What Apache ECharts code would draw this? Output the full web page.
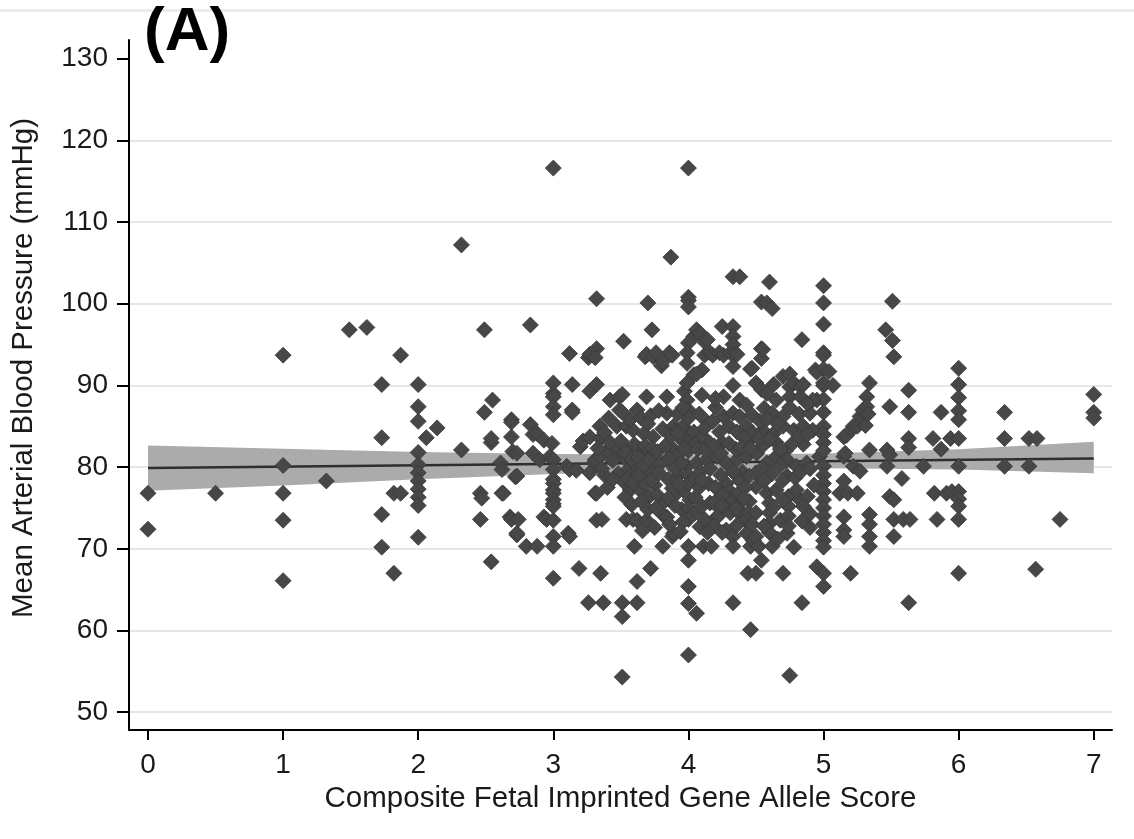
<!DOCTYPE html>
<html><head><meta charset="utf-8">
<script src="https://cdn.jsdelivr.net/npm/echarts@6/dist/echarts.min.js"></script>
<style>html,body{margin:0;padding:0;background:#fff}#c{width:1134px;height:839px}</style>
</head><body><div id="c"></div>
<script>
// ---- axis ticks ----
const xTicks = [0, 1, 2, 3, 4, 5, 6, 7];
const yTicks = [50, 60, 70, 80, 90, 100, 110, 120, 130];
const yGridLines = [50, 60, 70, 80, 90, 100, 110, 120];

// ---- fitted line and 95% CI band ----
const fitScore = [0, 7];
const fitMap = [79.88, 81.05];
const bandScore = [0, 1, 2, 3, 4, 5, 6, 7];
const bandUpper = [82.65, 82.25, 81.85, 81.6, 81.5, 81.65, 82.2, 83.1];
const bandLower = [77.1, 77.75, 78.5, 79.15, 79.6, 79.85, 79.7, 79.25];

// ---- observations [allele score, MAP] ----
const groupLow = [
[0,76.8],[0,72.4],[0.5,76.8],
[1,93.7],[1,80.2],[1,76.8],[1,73.5],[1,66.1],
[1.32,78.3],[1.49,96.8],[1.62,97.1],
[1.73,90.1],[1.73,83.6],[1.73,74.2],[1.73,70.2],
[1.82,76.8],[1.82,67.0],[1.87,93.7],[1.87,76.8],
[2,90.1],[2,87.4],[2,85.6],[2,81.8],[2,80.3],[2,79.3],[2,78.3],[2,77.3],[2,76.3],[2,75.3],[2,71.4],
[2.06,83.6],[2.14,84.8],[2.32,107.2],[2.32,82.1],
[2.49,96.8],[2.55,88.2],[2.49,86.7],[2.46,76.8],[2.47,76.2],[2.46,73.6],[2.54,68.4],[2.54,83.0],[2.54,83.5]
];
const groupMidA = [
[2.61,80.5],[2.62,79.7],[2.62,76.8],[2.63,76.8],[2.68,73.9],[2.69,73.6],[2.69,85.8],[2.69,83.7],[2.69,85.5],[2.70,81.9],[2.72,78.8],[2.73,81.7],[2.73,78.9],[2.73,71.7],[2.73,71.9],[2.74,73.6],[2.80,70.3],[2.83,97.4],[2.83,85.2],[2.85,84.0],[2.85,81.7],[2.88,84.1],[2.88,70.3],[2.90,80.9],[2.93,83.3],[2.93,73.9],[2.95,73.6],[2.975,81.3],[2.99,82.9],
[3,116.6],[3,90.3],[3,89.0],[3,88.6],[3,87.4],[3,86.4],[3,80.9],[3,79.7],[3,78.5],[3,78.0],[3,77.2],[3,76.8],[3,76.0],[3,75.5],[3,75.2],[3,73.5],[3,71.5],[3,70.3],[3,66.4],
[3.10,80.1],[3.11,71.9],[3.12,93.9],[3.12,79.7],[3.12,71.5],[3.14,90.1],[3.14,87.0],[3.14,86.7],[3.17,79.6],[3.19,67.6],[3.2,82.5],[3.22,83.2],
[3.26,93.4],[3.27,93.8],[3.32,94.5],[3.31,93.4],[3.27,89.3],[3.32,90.1],[3.27,83.7],[3.30,80.5],[3.27,79.3],[3.31,80.9],[3.31,76.8],[3.32,76.8],[3.32,73.5],[3.36,73.6],[3.26,63.4],[3.37,63.4],[3.35,67.0],[3.32,100.6],[3.345,85.0],[3.345,81.3],[3.42,88.2],[3.40,82.0],[3.38,79.0],[3.40,77.5]
];
const groupMidB = [
[3.47,85.0],[3.47,81.3],[3.47,82.5],[3.48,79.2],[3.49,88.6],[3.49,87.0],[3.51,88.9],[3.51,86.7],[3.52,95.4],[3.51,63.4],[3.51,61.7],[3.51,54.3],[3.52,78.2],[3.54,85.0],[3.54,80.9],[3.54,73.6],[3.55,82.0],[3.56,79.8],[3.57,77.2],[3.59,84.5],[3.59,73.6],[3.60,70.3],[3.62,87.0],[3.62,80.1],[3.62,73.5],[3.62,63.4],[3.62,66.0],[3.64,77.2],[3.64,82.2],[3.66,78.8],[3.67,84.1],[3.68,93.5],[3.69,88.6],[3.69,93.8],[3.69,81.3],[3.69,73.5],[3.70,100.1],[3.71,76.4],[3.72,67.6],[3.72,79.5],[3.73,96.8],[3.74,93.5],[3.74,83.7],[3.75,77.8],[3.76,94.0],[3.765,80.5],[3.80,92.4],[3.81,84.7],[3.81,92.9],[3.81,75.6],[3.81,70.3],[3.82,74.0],[3.84,88.6],[3.84,86.6],[3.84,80.9],[3.84,73.9],[3.85,78.5],[3.86,94.0],[3.87,105.7],[3.88,93.7],[3.88,71.5],[3.89,85.0],[3.89,71.9],[3.89,82.2],[3.91,81.3],[3.92,76.9],[3.93,79.0],[3.96,85.0],[3.96,77.2],[3.97,89.3],[3.95,74.8],[3.94,83.5]
];
const groupFour = [
[4,116.6],[4,100.8],[4,100.4],[4,99.6],[4.04,96.0],[4.0,95.2],[3.99,94.0],[3.99,92.7],[4.04,91.3],[3.99,90.3],[3.99,88.2],[4.0,87.0],[4.0,86.0],[4.01,84.0],[4.0,83.0],[4.0,82.0],[3.99,80.1],[4.0,79.0],[4.0,78.0],[4.01,76.0],[4.0,75.0],[4.04,74.3],[4.0,73.6],[4,70.3],[4,68.6],[4,65.4],[4,63.3],[4,57.0],[4.06,62.1],[4.06,96.8],[4.085,96.4],[4.04,84.3],[4.06,80.5],[4.05,78.6],[4.08,77.5],[4.05,76.3],[4.1,75.2],[4.05,82.8],[4.085,72.7],[4.10,91.9],[4.06,91.4],[4.11,83.7],[4.12,93.7],[4.12,95.3],[4.14,95.6],[4.135,80.9],[4.14,85.5],[4.16,94.0],[4.16,82.9],[4.16,75.6],[4.12,73.6],[4.11,70.3],[4.15,78.0],[4.17,70.3],[4.18,93.7],[4.2,87.3],[4.21,81.3],[4.21,73.9],[4.22,74.0],[4.23,94.0],[4.25,97.2],[4.26,93.7],[4.26,88.6],[4.26,86.2],[4.25,83.0],[4.28,80.5],[4.28,78.0],[4.28,72.3],[4.31,94.0],[4.31,77.0],[4.31,76.0],[4.31,74.4],[4.33,97.2],[4.33,96.0],[4.33,95.0],[4.33,93.7],[4.33,92.3],[4.33,90.0],[4.33,86.6],[4.33,76.0],[4.33,71.5],[4.33,70.3],[4.33,63.4],[4.33,103.3],[4.38,103.3],[4.36,93.8],[4.38,88.2],[4.38,86.2],[4.36,80.9],[4.35,82.2],[4.38,74.3],[4.38,74.8],[4.40,79.4],[4.42,73.5],[4.43,85.0],[4.43,81.3],[4.43,71.9],[4.44,67.0],[4.45,83.3],[4.45,75.8],[4.45,74.4],[4.46,92.0],[4.46,70.3],[4.46,60.1],[4.47,92.1],[4.48,84.1],[4.48,71.0]
];
const groupFive = [
[4.50,90.3],[4.50,79.3],[4.50,77.6],[4.50,74.4],[4.50,71.5],[4.50,67.0],[4.505,81.7],[4.52,70.3],[4.54,94.5],[4.54,93.3],[4.54,100.2],[4.54,68.6],[4.54,89.5],[4.55,94.4],[4.55,84.5],[4.56,87.2],[4.55,82.6],[4.58,100.1],[4.58,80.5],[4.58,76.8],[4.6,102.65],[4.6,75.6],[4.6,74.4],[4.6,73.1],[4.6,72.0],[4.62,99.4],[4.62,86.6],[4.62,70.3],[4.63,90.1],[4.63,84.1],[4.63,75.1],[4.65,81.3],[4.65,83.0],[4.68,73.5],[4.70,91.1],[4.70,85.0],[4.70,67.0],[4.70,86.2],[4.72,82.0],[4.73,80.9],[4.73,78.9],[4.73,71.9],[4.74,76.4],[4.74,75.2],[4.74,74.0],[4.74,72.8],[4.75,91.4],[4.75,89.8],[4.75,88.6],[4.75,87.3],[4.75,54.5],[4.78,90.3],[4.78,84.5],[4.78,70.2],[4.80,80.1],[4.82,86.5],[4.825,76.0],[4.83,89.8],[4.83,88.6],[4.84,95.6],[4.84,63.4],[4.85,90.1],[4.85,85.0],[4.85,82.8],[4.875,80.5],[4.88,76.4],[4.90,86.6],[4.90,74.3],[4.92,84.5],[4.94,91.9],[4.95,91.6],[4.95,88.2],[4.95,67.8],[4.97,81.3],
[5,102.2],[5,100.1],[5,97.5],[5,94.0],[5,93.7],[5,92.0],[5,90.3],[5,90.0],[5,88.3],[5,86.7],[5,85.0],[5,84.0],[5,83.0],[5,82.0],[5,80.1],[5,79.0],[5,78.0],[5,77.0],[5,76.0],[5,75.0],[5,74.0],[5,73.0],[5,72.0],[5,71.0],[5,70.2],[5,67.0],[5,65.4],[5.04,91.7],[5.07,90.0]
];
const groupCore = [
[3.35,83.5],[3.38,84.2],[3.42,83.0],[3.44,80.8],[3.36,79.8],[3.44,78.5],[3.33,82.3],[3.41,86.0],
[3.5,83.2],[3.53,81.8],[3.58,80.9],[3.6,82.8],[3.63,81.2],[3.66,80.0],[3.68,82.6],[3.71,81.0],[3.73,82.3],[3.77,81.9],[3.79,80.4],[3.55,78.6],[3.59,78.0],[3.63,79.0],[3.68,77.9],[3.73,78.4],[3.78,79.3],[3.77,76.6],[3.53,76.3],[3.58,75.4],[3.65,75.8],[3.7,74.8],[3.76,75.0],[3.66,72.2],[3.75,72.6],[3.57,85.8],[3.65,86.0],[3.72,86.3],[3.78,86.9],[3.7,85.3],
[3.83,82.6],[3.87,83.8],[3.92,84.2],[3.86,81.0],[3.9,79.8],[3.95,80.5],[3.88,77.4],[3.93,77.9],[3.9,75.3],[3.96,73.3],[3.86,73.0],[3.94,72.1],[3.85,76.2],[3.97,82.3],[3.92,86.5],[3.96,87.3],
[4.08,86.5],[4.12,84.8],[4.18,85.6],[4.23,84.3],[4.3,85.0],[4.36,84.3],[4.41,83.6],[4.07,82.2],[4.13,82.0],[4.19,82.6],[4.24,81.7],[4.3,82.9],[4.39,82.4],[4.46,82.3],[4.09,79.4],[4.16,79.8],[4.24,79.0],[4.33,79.4],[4.38,78.3],[4.45,78.9],[4.1,78.4],[4.2,77.5],[4.25,76.6],[4.37,76.8],[4.42,77.5],[4.19,75.6],[4.25,75.3],[4.35,75.0],[4.41,76.2],[4.19,72.8],[4.25,72.0],[4.36,72.9],[4.47,73.0],[4.14,72.0],[4.2,88.4],[4.1,88.8],[4.43,87.6],[4.47,86.4],
[4.53,85.6],[4.58,85.9],[4.66,85.3],[4.52,83.5],[4.6,83.4],[4.68,82.2],[4.77,82.9],[4.82,83.8],[4.88,84.0],[4.55,79.9],[4.62,79.2],[4.68,80.2],[4.7,78.4],[4.79,78.7],[4.83,79.4],[4.9,79.8],[4.56,78.3],[4.65,77.2],[4.7,76.0],[4.8,77.2],[4.85,75.2],[4.93,77.8],[4.9,72.6],[4.84,73.4],[4.66,71.2],[4.56,72.8],[4.92,88.2],[4.88,87.8],[4.65,88.2],[4.58,89.0]
];
const groupHigh = [
[5.12,76.8],[5.15,83.7],[5.15,81.3],[5.15,78.3],[5.15,73.9],[5.15,72.3],[5.15,71.5],[5.16,81.7],[5.17,83.9],[5.18,76.8],[5.20,67.0],[5.21,84.6],[5.22,85.0],[5.22,80.1],[5.25,85.0],[5.25,76.8],[5.27,86.2],[5.27,79.5],[5.29,87.0],[5.31,85.1],[5.32,88.6],[5.32,87.4],[5.33,86.5],[5.34,90.3],[5.34,82.1],[5.34,74.2],[5.34,73.0],[5.34,71.5],[5.34,70.3],[5.46,96.8],[5.47,82.1],[5.47,80.1],[5.49,87.4],[5.49,81.5],[5.49,76.4],[5.51,100.3],[5.51,95.5],[5.52,93.5],[5.52,76.0],[5.52,73.6],[5.52,71.5],
[5.58,78.6],[5.59,73.6],[5.63,89.4],[5.63,86.7],[5.63,83.5],[5.63,82.4],[5.64,73.6],[5.63,63.4],
[5.74,80.1],[5.81,83.5],[5.82,76.8],[5.84,73.6],[5.87,86.7],[5.87,82.2],[5.91,76.8],[5.94,83.5],[5.95,77.0],
[6,92.1],[6,90.1],[6,88.5],[6,86.9],[6,85.8],[6,83.5],[6,80.1],[6,77.0],[6,76.1],[6,75.2],[6,73.6],[6,67.0],
[6.34,86.7],[6.34,83.5],[6.34,80.1],[6.52,83.5],[6.58,83.5],[6.52,80.1],[6.57,67.5],[6.75,73.6],
[7,88.9],[7,86.7],[7,86.0]
];

const FONT = 'Liberation Sans, Arial, sans-serif';
const TXT = '#1a1a1a';
const chart = echarts.init(document.getElementById('c'), null, {renderer: 'canvas'});
const observations = [].concat(groupLow, groupMidA, groupMidB, groupFour, groupFive, groupCore, groupHigh);

chart.setOption({
  animation: false,
  backgroundColor: '#ffffff',
  title: {
    text: '(A)', left: 139, top: -3,
    textStyle: {fontSize: 62, fontWeight: 'bold', fontFamily: FONT, color: '#000'}
  },
  graphic: [{
    type: 'rect', left: 0, top: 9, z: -1,
    shape: {width: 1134, height: 3},
    style: {fill: '#ececec'}
  }],
  grid: {left: 129, right: 22, top: 40, bottom: 109, containLabel: false},
  xAxis: {
    type: 'value', min: -0.1406, max: 7.135,
    name: 'Composite Fetal Imprinted Gene Allele Score',
    nameLocation: 'middle', nameGap: 50,
    nameTextStyle: {fontSize: 29.5, fontFamily: FONT, color: TXT},
    axisLine: {show: true, onZero: false, lineStyle: {color: '#000', width: 2}},
    axisTick: {show: true, customValues: xTicks, length: 10, lineStyle: {color: '#000', width: 2}},
    axisLabel: {customValues: xTicks, fontSize: 28, fontFamily: FONT, color: TXT, margin: 21},
    splitLine: {show: false}
  },
  yAxis: {
    type: 'value', min: 47.82, max: 132.28,
    name: 'Mean Arterial Blood Pressure (mmHg)',
    nameLocation: 'middle', nameGap: 90,
    nameTextStyle: {fontSize: 29.5, fontFamily: FONT, color: TXT, padding: [0, 0, 0, 34]},
    axisLine: {show: true, onZero: false, lineStyle: {color: '#000', width: 2}},
    axisTick: {show: true, customValues: yTicks, length: 12, lineStyle: {color: '#000', width: 2}},
    axisLabel: {customValues: yTicks, fontSize: 28, fontFamily: FONT, color: TXT, margin: 21},
    splitLine: {show: false}
  },
  series: [
    {
      type: 'scatter', data: [], z: 0, silent: true,
      markLine: {
        z: 0, zlevel: 0,
        silent: true, symbol: ['none', 'none'], label: {show: false}, animation: false,
        lineStyle: {color: '#e6e6e6', width: 2, type: 'solid'},
        emphasis: {disabled: true},
        data: yGridLines.map(v => ({yAxis: v}))
      }
    },
    {
      type: 'custom', z: 2, silent: true,
      data: bandScore.map((s, i) => [s, bandUpper[i], bandLower[i]]),
      encode: {x: 0, y: [1, 2]},
      renderItem: function (params, api) {
        if (params.dataIndex !== 0) return null;
        const up = bandScore.map((s, i) => api.coord([s, bandUpper[i]]));
        const lo = bandScore.map((s, i) => api.coord([s, bandLower[i]])).reverse();
        return {type: 'polygon', shape: {points: up.concat(lo)}, style: {fill: '#ababab'}};
      }
    },
    {
      type: 'line', z: 3, silent: true, symbol: 'none',
      data: fitScore.map((s, i) => [s, fitMap[i]]),
      lineStyle: {color: '#2e2e2e', width: 2.5}
    },
    {
      type: 'scatter', z: 4, silent: true,
      symbol: 'diamond', symbolSize: 16,
      itemStyle: {color: '#474747', borderColor: '#383838', borderWidth: 0.8, opacity: 1},
      data: observations
    }
  ]
});
</script></body></html>
